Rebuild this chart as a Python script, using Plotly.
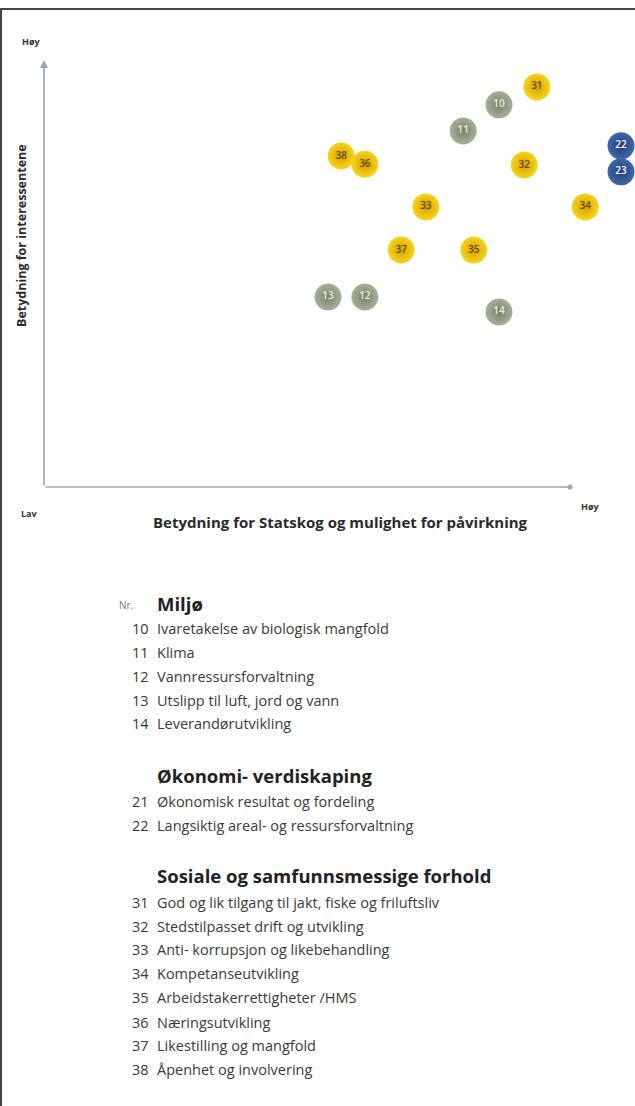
import plotly.graph_objects as go

W, H = 635, 1106

# ---- data ----
ids = ["31", "10", "11", "22", "23", "38", "36", "32", "33", "34", "37", "35", "13", "12", "14"]
x_vals = [9.37, 8.65, 7.97, 10.97, 10.97, 5.65, 6.10, 9.13, 7.26, 10.29, 6.79, 8.17, 5.40, 6.10, 8.65]
y_vals = [9.37, 8.95, 8.34, 7.99, 7.38, 7.75, 7.56, 7.54, 6.56, 6.56, 5.55, 5.55, 4.45, 4.45, 4.10]
groups = ["sos", "mil", "mil", "oko", "oko", "sos", "sos", "sos", "sos", "sos", "sos", "sos", "mil", "mil", "mil"]

x_title = "Betydning for Statskog og mulighet for påvirkning"
y_title = "Betydning for interessentene"
low_label = "Lav"
high_label = "Høy"

sections = ["Miljø", "Økonomi- verdiskaping", "Sosiale og samfunnsmessige forhold"]
sec_nums = [
    ["10", "11", "12", "13", "14"],
    ["21", "22"],
    ["31", "32", "33", "34", "35", "36", "37", "38"],
]
sec_texts = [
    ["Ivaretakelse av biologisk mangfold", "Klima", "Vannressursforvaltning",
     "Utslipp til luft, jord og vann", "Leverandørutvikling"],
    ["Økonomisk resultat og fordeling", "Langsiktig areal- og ressursforvaltning"],
    ["God og lik tilgang til jakt, fiske og friluftsliv", "Stedstilpasset drift og utvikling",
     "Anti- korrupsjon og likebehandling", "Kompetanseutvikling", "Arbeidstakerrettigheter /HMS",
     "Næringsutvikling", "Likestilling og mangfold", "Åpenhet og involvering"],
]

# ---- styles ----
style = {
    "sos": dict(center="#F8D41C", edge="#D6A000", text="#5E4C00"),
    "mil": dict(center="#A8B09A", edge="#76826A", text="#E6EADE"),
    "oko": dict(center="#4068AC", edge="#213D78", text="#FFFFFF"),
}

def py(p):  # pixel y -> paper
    return 1 - p / H

def px(p):
    return p / W

fig = go.Figure()

for g in ["mil", "oko", "sos"]:
    idx = [i for i, gg in enumerate(groups) if gg == g]
    s = style[g]
    fig.add_trace(go.Scatter(
        x=[x_vals[i] for i in idx], y=[y_vals[i] for i in idx],
        text=[ids[i] for i in idx], mode="markers+text",
        textposition="middle center",
        textfont=dict(family="Open Sans", size=10, color=s["text"], weight=600),
        marker=dict(size=27, color=s["center"],
                    gradient=dict(type="radial", color=s["edge"]),
                    line=dict(width=0)),
        cliponaxis=False, showlegend=False, hoverinfo="skip",
    ))

# axes geometry: x: 0 at px 44, 10 at px 570; y: 0 at px 487, 10 at px 60
x0p, x10p = 44, 570
kx = (x10p - x0p) / 10
y0p, y10p = 487, 60
ky = (y0p - y10p) / 10
ytop_p = 30

fig.update_layout(
    width=W, height=H, margin=dict(l=0, r=0, t=0, b=0),
    paper_bgcolor="white", plot_bgcolor="rgba(0,0,0,0)",
    xaxis=dict(domain=[px(x0p), 1], range=[0, (W - x0p) / kx],
               visible=False, fixedrange=True),
    yaxis=dict(domain=[py(y0p), py(ytop_p)], range=[0, (y0p - ytop_p) / ky],
               visible=False, fixedrange=True),
)

ann = []
# axis arrows
ann.append(dict(x=0, y=10, ax=0, ay=0, xref="x", yref="y", axref="x", ayref="y",
                showarrow=True, arrowhead=2, arrowsize=1, arrowwidth=1.6,
                arrowcolor="#9AA0B8", text=""))
ann.append(dict(x=10, y=0, ax=0, ay=0, xref="x", yref="y", axref="x", ayref="y",
                showarrow=True, arrowhead=6, arrowsize=0.8, arrowwidth=1.6,
                arrowcolor="#A0A4B4", text=""))

def txt(x, y, text, font, xanchor="center", **kw):
    d = dict(x=px(x), y=py(y), xref="paper", yref="paper", text=text, showarrow=False,
             font=font, xanchor=xanchor, yanchor="middle")
    d.update(kw)
    ann.append(d)

lab_font = dict(family="Open Sans", size=9, color="#333333")
txt(31, 42, "<b>" + high_label + "</b>", lab_font)
txt(29, 513, "<b>" + low_label + "</b>", lab_font)
txt(590, 506, "<b>" + high_label + "</b>", lab_font)
txt(340, 522, "<b>" + x_title + "</b>", dict(family="Open Sans", size=15, color="#2A2A2A"))
txt(21, 236, "<b>" + y_title + "</b>", dict(family="Open Sans", size=12.5, color="#2A2A2A"),
    textangle=-90)

# legend list
txt(117, 605, "Nr.", dict(family="Open Sans", size=10, color="#777777"), xanchor="left")
head_y = [603, 775, 875]
item_y = [[628, 652, 676, 700, 723], [801, 825], [902, 926, 949, 973, 997, 1022, 1045, 1069]]
for s_i, title in enumerate(sections):
    txt(155, head_y[s_i], "<b>" + title + "</b>",
        dict(family="Open Sans", size=18.5, color="#222222"), xanchor="left")
    for n, t, yy in zip(sec_nums[s_i], sec_texts[s_i], item_y[s_i]):
        f = dict(family="Open Sans", size=14.5, color="#3A3A3A")
        txt(130, yy, n, f, xanchor="left")
        txt(155, yy, t, f, xanchor="left")

fig.update_layout(annotations=ann)

# frame lines (top and left border of the picture)
fig.add_shape(type="line", xref="paper", yref="paper", x0=0, x1=1, y0=py(9), y1=py(9),
              line=dict(color="#444444", width=2))
fig.add_shape(type="line", xref="paper", yref="paper", x0=px(1), x1=px(1), y0=py(9), y1=0,
              line=dict(color="#444444", width=2))

fig.write_html("out.html", config={"displayModeBar": False},
               post_script="document.body.style.margin='0';document.body.style.overflow='hidden';")
